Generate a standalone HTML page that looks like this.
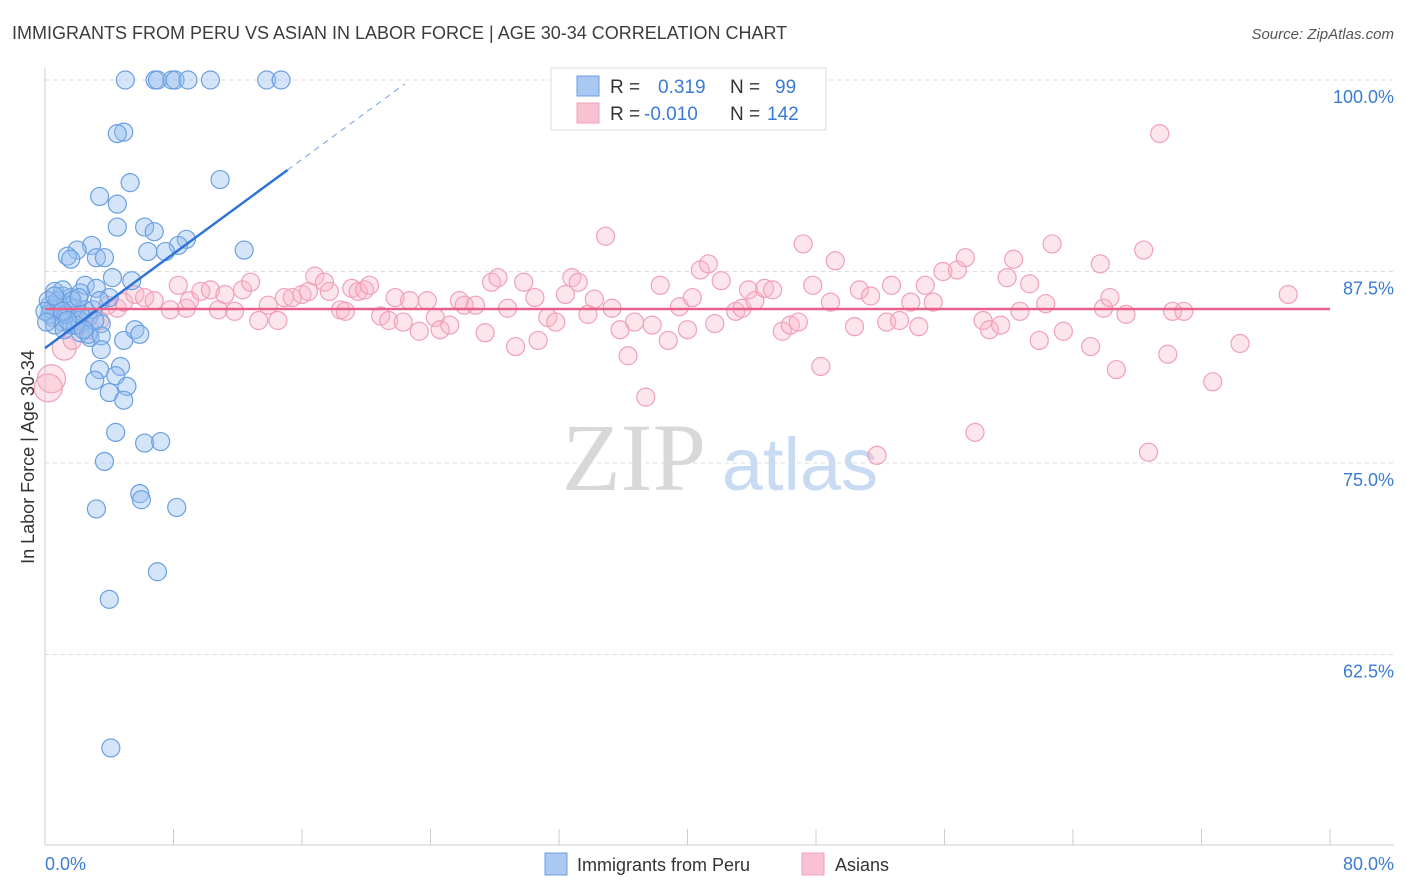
<!DOCTYPE html>
<html><head><meta charset="utf-8"><style>
body{margin:0;background:#fff;font-family:"Liberation Sans",sans-serif;}
#w{position:relative;width:1406px;height:892px;overflow:hidden}
</style></head><body><div id="w">
<svg id="s" width="1406" height="892">
<text x="12" y="39" font-size="18" fill="#3c3c3c">IMMIGRANTS FROM PERU VS ASIAN IN LABOR FORCE | AGE 30-34 CORRELATION CHART</text>
<text x="1394" y="39" font-size="15" font-style="italic" fill="#555" text-anchor="end">Source: ZipAtlas.com</text>
<text x="634" y="490" font-size="96" font-family="Liberation Serif,serif" fill="#d8d8d8" text-anchor="middle">ZIP</text>
<text x="800" y="490" font-size="74" fill="#c8dbf2" text-anchor="middle">atlas</text>
<g id="grid"></g>
<g id="axes"></g>
<g id="pts"></g>
<g id="trend"></g>
<text x="34" y="457" font-size="18" fill="#333" text-anchor="middle" transform="rotate(-90 34 457)">In Labor Force | Age 30-34</text>
<text x="45" y="870" font-size="18" fill="#3a7bd5">0.0%</text>
<text x="1394" y="870" font-size="18" fill="#3a7bd5" text-anchor="end">80.0%</text>
<g>
<rect x="551" y="68" width="275" height="62" fill="#fff" stroke="#ddd"/>
<rect x="577" y="76" width="22" height="20" fill="#a9c8f2" stroke="#6a9fe0"/>
<rect x="577" y="103" width="22" height="20" fill="#f8c2d2" stroke="#f0a0b8"/>
<text x="610" y="93" font-size="19" fill="#333">R = <tspan x="658" fill="#3a7bd5">0.319</tspan><tspan x="730">N = </tspan><tspan x="775" fill="#3a7bd5">99</tspan></text>
<text x="610" y="120" font-size="19" fill="#333">R = <tspan x="644" fill="#3a7bd5">-0.010</tspan><tspan x="730">N = </tspan><tspan x="767" fill="#3a7bd5">142</tspan></text>
</g>
<g><rect x="545" y="853" width="22" height="22" fill="#a9c8f2" stroke="#6a9fe0"/><text x="577" y="871" font-size="18" fill="#333">Immigrants from Peru</text></g>
<g><rect x="802" y="853" width="22" height="22" fill="#f8c2d2" stroke="#f0a0b8"/><text x="835" y="871" font-size="18" fill="#333">Asians</text></g>
</svg></div>
<script>
const blueX=[5.0,6.85,7.0,7.9,8.1,8.9,10.3,13.8,14.7,4.9,4.5,5.3,3.4,4.5,4.5,6.2,6.8,10.9,12.4,8.8,8.3,7.5,6.4,2.9,2.0,1.4,1.6,3.2,3.7,4.2,5.4,2.5,3.2,0.6,1.1,1.6,2.2,4.0,0.7,0.3,0.4,0.9,1.4,1.9,2.5,3.0,3.4,0.5,1.1,1.6,2.1,2.7,3.5,2.2,2.8,2.7,3.5,4.9,3.5,5.6,5.9,4.7,3.4,4.4,3.1,5.1,4.0,4.9,4.4,6.2,7.2,3.7,5.9,6.0,3.2,8.2,7.0,4.0,4.1,0.2,0.3,0.6,1.2,0,0.8,1.3,1.9,1.1,1.7,2.2,3.1,2.4,0.1,2.1,0.6,1.1,1.4];
const blueY=[100,100,100,100,100,100,100,100,100,96.6,96.5,93.3,92.4,91.9,90.4,90.4,90.1,93.5,88.9,89.6,89.2,88.8,88.8,89.2,88.9,88.5,88.3,88.4,88.4,87.1,86.9,86.6,86.4,86.2,85.9,85.8,86.1,85.8,85.4,85.3,85.0,85.1,85.3,85.1,85.0,85.0,85.6,84.5,84.2,84.0,84.3,84.5,84.1,83.5,83.2,83.4,83.3,83.0,82.4,83.7,83.4,81.3,81.1,80.7,80.4,80.0,79.6,79.1,77.0,76.3,76.4,75.1,73.0,72.6,72.0,72.1,67.9,66.1,56.4,85.6,84.7,84.0,83.7,84.9,85.6,84.7,84.0,86.3,85.6,84.7,84.3,83.7,84.2,85.8,85.9,84.9,84.3];
const pinkX=[0.4,0.2,1.2,1.7,2.2,2.8,3.4,3.9,4.5,4.9,5.6,6.2,6.8,7.8,8.3,8.8,9.0,9.7,10.3,10.8,11.2,11.8,12.3,12.8,13.3,13.9,14.5,14.9,15.4,16.0,16.4,16.8,17.4,17.7,18.4,18.7,19.1,19.5,19.9,20.2,20.9,21.4,21.8,22.3,22.7,23.3,23.8,24.3,24.6,25.2,25.8,26.1,26.8,27.4,27.8,28.2,28.8,29.3,29.8,30.5,30.7,31.3,31.8,32.4,32.8,33.2,33.8,34.2,34.9,35.3,35.8,36.3,36.7,37.4,37.8,38.3,38.8,39.5,40.0,40.3,40.8,41.3,41.7,42.1,43.0,43.4,43.8,44.2,44.8,45.3,45.9,46.4,46.9,47.2,47.8,48.3,48.9,49.2,50.4,50.7,51.4,51.8,52.4,52.7,53.2,53.9,54.4,54.8,55.3,55.9,56.8,57.3,57.9,58.4,58.8,59.5,59.9,60.3,60.7,61.3,61.9,62.3,62.7,63.4,65.1,65.7,65.9,66.3,66.7,67.3,68.4,68.7,69.4,69.9,70.2,70.9,72.7,74.4,77.4];
const pinkY=[80.5,79.9,82.5,83.0,84.0,83.7,84.3,85.3,85.1,85.5,86.0,85.8,85.6,85.0,86.6,85.1,85.6,86.2,86.3,85.0,86.0,84.9,86.3,86.8,84.3,85.3,84.3,85.8,85.8,86.0,86.2,87.2,86.8,86.2,85.0,84.9,86.4,86.2,86.3,86.6,84.6,84.3,85.8,84.2,85.6,83.6,85.6,84.5,83.7,84.0,85.6,85.3,85.3,83.5,86.8,87.1,85.1,82.6,86.8,85.8,83.0,84.5,84.2,86.0,87.1,86.8,84.7,85.7,89.8,85.1,83.7,82.0,84.2,79.3,84.0,86.6,83.0,85.2,83.7,85.8,87.6,88.0,84.1,86.9,84.9,85.1,86.3,85.6,86.4,86.3,83.6,84.0,84.2,89.3,86.6,81.3,85.5,88.2,83.9,86.3,85.9,75.5,84.2,86.6,84.3,85.5,83.9,86.6,85.5,87.5,87.6,88.4,77.0,84.3,83.7,84.0,87.1,88.3,84.9,86.7,83.0,85.4,89.3,83.6,82.6,88.0,85.1,85.8,81.1,84.7,88.9,75.7,96.5,82.1,84.9,84.9,80.3,82.8,86.0];
const yTicks=[100,87.5,75,62.5];
const yTickLabels=["100.0%","87.5%","75.0%","62.5%"];
const xTicks=[0,8,16,24,32,40,48,56,64,72,80];
const blueTrend=[82.5,0.77]; // intercept, slope
const pinkTrend=[85.05,0];
const X=v=>45+v/80*1285, Y=v=>80+(100-v)*15.32;
const NS="http://www.w3.org/2000/svg";
function mk(t,a,p){const e=document.createElementNS(NS,t);for(const k in a)e.setAttribute(k,a[k]);p.appendChild(e);return e;}
const grid=document.getElementById('grid'),axes=document.getElementById('axes'),pts=document.getElementById('pts'),tr=document.getElementById('trend');
yTicks.forEach((v,i)=>{
 const l=mk('line',{x1:45,x2:1394,y1:Y(v),y2:Y(v),stroke:'#ddd','stroke-dasharray':'4,4'},grid);
 
 
 const t=mk('text',{x:1394,y:Y(v)+23,'font-size':18,fill:'#3a7bd5','text-anchor':'end'},grid);
 t.textContent=yTickLabels[i];
 
 
});
let a=mk('line',{x1:45,x2:45,y1:68,y2:845,stroke:'#ccc'},axes);


a=mk('line',{x1:45,x2:1394,y1:845,y2:845,stroke:'#ccc'},axes);


xTicks.forEach(v=>{const t=mk('line',{x1:X(v),x2:X(v),y1:829,y2:845,stroke:'#ccc'},axes);
 
 });
pinkX.forEach((x,i)=>{const c=mk('circle',{cx:X(x),cy:Y(pinkY[i]),r:i<2?14:(i==2?12:9),fill:'rgba(248,180,200,0.35)',stroke:'#f0a0b8','stroke-width':1.2},pts);
 
 });
blueX.forEach((x,i)=>{const c=mk('circle',{cx:X(x),cy:Y(blueY[i]),r:9,fill:'rgba(150,190,240,0.4)',stroke:'#6a9fe0','stroke-width':1.2},pts);
 
 });
const bf=x=>blueTrend[0]+blueTrend[1]*x;
let l=mk('line',{x1:X(0),y1:Y(bf(0)),x2:X(15.1),y2:Y(bf(15.1)),stroke:'#2f73d6','stroke-width':2.5},tr);


l=mk('line',{x1:X(15.1),y1:Y(bf(15.1)),x2:X(22.4),y2:Y(bf(22.4)),stroke:'#8ab0e6','stroke-width':1.2,'stroke-dasharray':'6,5'},tr);


l=mk('line',{x1:X(0),y1:Y(pinkTrend[0]),x2:X(80),y2:Y(pinkTrend[0]+pinkTrend[1]*80),stroke:'#e8608a','stroke-width':2.5},tr);


</script></body></html>
